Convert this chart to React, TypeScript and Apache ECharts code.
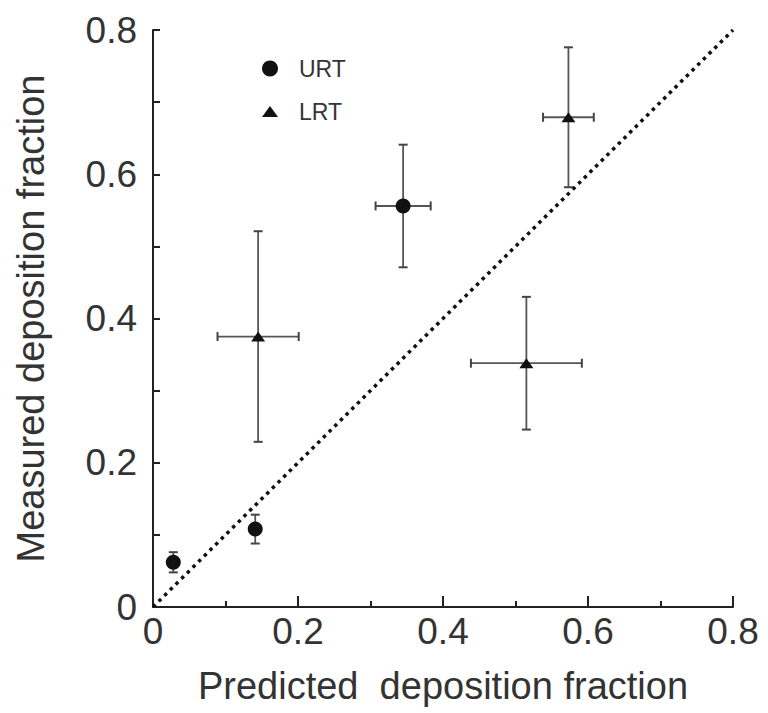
import React, { useEffect, useRef } from "react";
import * as echarts from "echarts";

const urtX = [0.028, 0.141, 0.345];
const urtY = [0.062, 0.108, 0.556];
const urtXErr = [0, 0, 0.038];
const urtYErr = [0.014, 0.02, 0.085];

const lrtX = [0.145, 0.515, 0.573];
const lrtY = [0.375, 0.338, 0.679];
const lrtXErr = [0.056, 0.0765, 0.035];
const lrtYErr = [0.146, 0.092, 0.097];

const diagonal = [
  [0, 0],
  [0.8, 0.8],
];

const FONT = "Liberation Sans";

export default function App() {
  const ref = useRef<HTMLDivElement>(null);
  useEffect(() => {
    document.body.style.margin = "0";
    const chart = echarts.init(ref.current!, null, { renderer: "svg" });
    const errData = [
      ...urtX.map((x, i) => [x, urtY[i], urtXErr[i], urtYErr[i]]),
      ...lrtX.map((x, i) => [x, lrtY[i], lrtXErr[i], lrtYErr[i]]),
    ];
    const fmt = (v: number) => {
      const k = Math.round(v * 10);
      if (k % 2 !== 0) return "";
      return k === 0 ? "0" : (k / 10).toFixed(1);
    };
    chart.setOption({
      animation: false,
      grid: { left: 153, right: 35, top: 30, bottom: 106 },
      legend: {
        orient: "vertical",
        left: 257,
        top: 52,
        itemWidth: 16,
        itemHeight: 16,
        itemGap: 20,
        formatter: "{a|{name}}",
        textStyle: {
          fontFamily: FONT,
          fontSize: 23,
          color: "#333",
          rich: {
            a: { fontFamily: FONT, fontSize: 23, color: "#333", padding: [0, 0, 0, 16] },
          },
        },
        data: [
          { name: "URT", icon: "circle", itemStyle: { opacity: 1 } },
          { name: "LRT", icon: "path://M0,11 L8,0 L16,11 Z", itemStyle: { opacity: 1 } },
        ],
      },
      xAxis: {
        type: "value",
        min: 0,
        max: 0.8,
        interval: 0.2,
        name: "Predicted  deposition fraction",
        nameLocation: "middle",
        nameGap: 60,
        nameTextStyle: { fontFamily: FONT, fontSize: 38, color: "#333" },
        axisLine: { show: true, onZero: false, lineStyle: { color: "#222", width: 2 } },
        axisTick: { show: true, inside: true, length: 11, lineStyle: { color: "#222", width: 2 } },
        minorTick: { show: true, splitNumber: 2, length: 6, lineStyle: { color: "#222", width: 2 } },
        splitLine: { show: false },
        axisLabel: {
          fontFamily: FONT,
          fontSize: 37,
          color: "#333",
          margin: 6,
          formatter: fmt,
          showMaxLabel: true,
        },
      },
      yAxis: {
        type: "value",
        min: 0,
        max: 0.8,
        interval: 0.2,
        name: "Measured deposition fraction",
        nameLocation: "middle",
        nameRotate: 90,
        nameGap: 103,
        nameTextStyle: { fontFamily: FONT, fontSize: 38, color: "#333" },
        axisLine: { show: true, onZero: false, lineStyle: { color: "#222", width: 2 } },
        axisTick: { show: true, inside: true, length: 7, lineStyle: { color: "#222", width: 2 } },
        minorTick: { show: true, splitNumber: 2, length: 7, lineStyle: { color: "#222", width: 2 } },
        splitLine: { show: false },
        axisLabel: {
          fontFamily: FONT,
          fontSize: 37,
          color: "#333",
          margin: 16,
          formatter: fmt,
        },
      },
      series: [
        {
          type: "line",
          data: diagonal,
          symbol: "none",
          silent: true,
          lineStyle: { color: "#111", width: 3.5, type: [3.5, 4.5] },
          z: 1,
        },
        {
          type: "custom",
          data: errData,
          encode: { x: 0, y: 1 },
          z: 2,
          silent: true,
          renderItem: (params: any, api: any) => {
            const x = api.value(0);
            const y = api.value(1);
            const ex = api.value(2);
            const ey = api.value(3);
            const children: any[] = [];
            const lineStyle = { stroke: "#555", lineWidth: 1.8 };
            const capStyle = { stroke: "#444", lineWidth: 2 };
            const cap = 4.5;
            if (ey > 0) {
              const top = api.coord([x, y + ey]);
              const bot = api.coord([x, y - ey]);
              children.push({ type: "line", shape: { x1: top[0], y1: top[1], x2: bot[0], y2: bot[1] }, style: lineStyle });
              children.push({ type: "line", shape: { x1: top[0] - cap, y1: top[1], x2: top[0] + cap, y2: top[1] }, style: capStyle });
              children.push({ type: "line", shape: { x1: bot[0] - cap, y1: bot[1], x2: bot[0] + cap, y2: bot[1] }, style: capStyle });
            }
            if (ex > 0) {
              const l = api.coord([x - ex, y]);
              const r = api.coord([x + ex, y]);
              children.push({ type: "line", shape: { x1: l[0], y1: l[1], x2: r[0], y2: r[1] }, style: lineStyle });
              children.push({ type: "line", shape: { x1: l[0], y1: l[1] - cap, x2: l[0], y2: l[1] + cap }, style: capStyle });
              children.push({ type: "line", shape: { x1: r[0], y1: r[1] - cap, x2: r[0], y2: r[1] + cap }, style: capStyle });
            }
            return { type: "group", children };
          },
        },
        {
          name: "URT",
          type: "scatter",
          data: urtX.map((x, i) => [x, urtY[i]]),
          symbol: "circle",
          symbolSize: 15,
          itemStyle: { color: "#111", opacity: 1 },
          z: 3,
        },
        {
          name: "LRT",
          type: "scatter",
          data: lrtX.map((x, i) => [x, lrtY[i]]),
          symbol: "triangle",
          symbolSize: [14, 10],
          itemStyle: { color: "#111", opacity: 1 },
          z: 3,
        },
      ],
    });
    return () => chart.dispose();
  }, []);
  return <div ref={ref} style={{ width: 768, height: 713 }} />;
}
